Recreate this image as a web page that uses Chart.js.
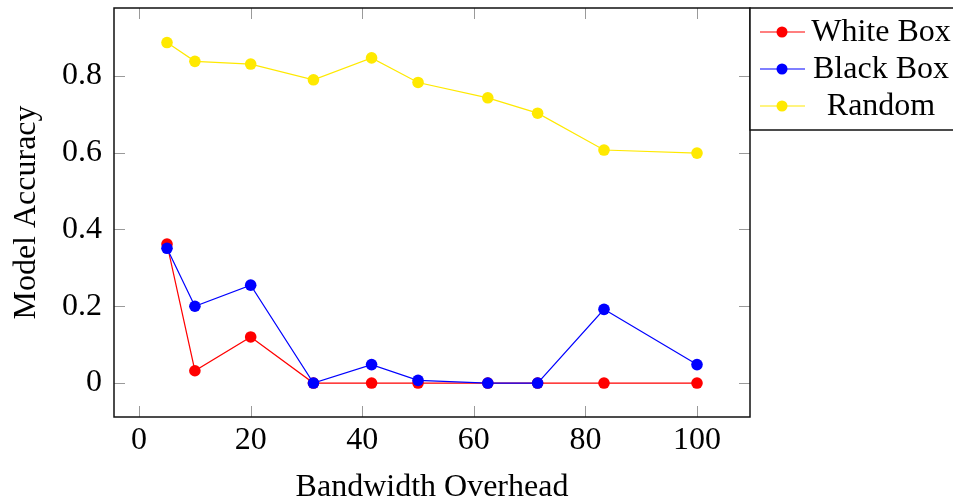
<!DOCTYPE html>
<html>
<head>
<meta charset="utf-8">
<script src="https://cdn.jsdelivr.net/npm/chart.js@4.4.1/dist/chart.umd.min.js"></script>
<style>
  html, body { margin: 0; padding: 0; background: #fff; }
  canvas { display: block; }
</style>
</head>
<body>
<canvas id="accChart" width="953" height="500"></canvas>
<script>
// bandwidth overhead (x) values, shared by all series
const overhead = [5, 10, 20, 31.25, 41.67, 50, 62.5, 71.43, 83.33, 100];
const whiteBox = [0.362, 0.032, 0.120, 0, 0, 0, 0, 0, 0, 0];
const blackBox = [0.351, 0.200, 0.255, 0, 0.048, 0.007, 0, 0, 0.192, 0.048];
const randomAcc = [0.887, 0.838, 0.831, 0.790, 0.847, 0.783, 0.743, 0.703, 0.607, 0.599];

const seriesNames = ['White Box', 'Black Box', 'Random'];
const seriesColors = ['#ff0000', '#0000ff', '#ffe900'];

const xTicks = [0, 20, 40, 60, 80, 100];
const yTicks = [0, 0.2, 0.4, 0.6, 0.8];

const FONT = "'Liberation Serif', 'Times New Roman', serif";
const FSIZE = 32;

function toPoints(ys) {
  return overhead.map((x, i) => ({ x: x, y: ys[i] }));
}

function makeSet(label, ys, color, order) {
  return {
    label: label,
    data: toPoints(ys),
    borderColor: color,
    backgroundColor: color,
    borderWidth: 1.2,
    pointRadius: 5.8,
    pointHoverRadius: 5.8,
    pointBorderWidth: 0,
    order: order,
    tension: 0
  };
}

// pgfplots-like frame, inward ticks on all four sides, and the legend box
const framePlugin = {
  id: 'frame',
  afterDraw(chart) {
    const ctx = chart.ctx;
    const a = chart.chartArea;
    const xs = chart.scales.x;
    const ys = chart.scales.y;
    const tl = 11;

    ctx.save();
    ctx.strokeStyle = '#9a9a9a';
    ctx.lineWidth = 1;
    xTicks.forEach(v => {
      const px = Math.round(xs.getPixelForValue(v)) + 0.5;
      ctx.beginPath();
      ctx.moveTo(px, a.bottom); ctx.lineTo(px, a.bottom - tl);
      ctx.moveTo(px, a.top); ctx.lineTo(px, a.top + tl);
      ctx.stroke();
    });
    yTicks.forEach(v => {
      const py = Math.round(ys.getPixelForValue(v)) + 0.5;
      ctx.beginPath();
      ctx.moveTo(a.left, py); ctx.lineTo(a.left + tl, py);
      ctx.moveTo(a.right, py); ctx.lineTo(a.right - tl, py);
      ctx.stroke();
    });

    ctx.strokeStyle = '#111';
    ctx.lineWidth = 1.5;
    ctx.strokeRect(a.left, a.top, a.right - a.left, a.bottom - a.top);

    // legend, sitting against the right side of the plot
    const lx = a.right, ly = a.top, lw = 220, lh = 122;
    ctx.fillStyle = '#fff';
    ctx.fillRect(lx, ly, lw, lh);
    ctx.strokeRect(lx, ly, lw, lh);
    ctx.font = FSIZE + 'px ' + FONT;
    ctx.textAlign = 'center';
    ctx.textBaseline = 'middle';
    seriesNames.forEach((name, i) => {
      const cy = ly + 24 + i * 37;
      ctx.strokeStyle = seriesColors[i];
      ctx.lineWidth = 1.2;
      ctx.beginPath();
      ctx.moveTo(lx + 10, cy); ctx.lineTo(lx + 55, cy);
      ctx.stroke();
      ctx.fillStyle = seriesColors[i];
      ctx.beginPath();
      ctx.arc(lx + 32, cy, 5.5, 0, Math.PI * 2);
      ctx.fill();
      ctx.fillStyle = '#000';
      ctx.fillText(name, lx + 131, cy + 1);
    });
    ctx.restore();
  }
};

new Chart(document.getElementById('accChart'), {
  type: 'line',
  data: {
    datasets: [
      makeSet(seriesNames[0], whiteBox, seriesColors[0], 1),
      makeSet(seriesNames[1], blackBox, seriesColors[1], 0),
      makeSet(seriesNames[2], randomAcc, seriesColors[2], 2)
    ]
  },
  options: {
    responsive: false,
    animation: false,
    layout: { padding: { top: 8, right: 203, left: 0, bottom: 0 } },
    plugins: {
      legend: { display: false },
      tooltip: { enabled: false }
    },
    scales: {
      x: {
        type: 'linear',
        min: -4.5,
        max: 109.5,
        afterBuildTicks: s => { s.ticks = xTicks.map(v => ({ value: v })); },
        afterFit: s => { s.height = 83; s.paddingLeft = 0; s.paddingRight = 0; },
        grid: { display: false, drawTicks: false },
        border: { display: false },
        ticks: { color: '#000', font: { family: FONT, size: FSIZE }, padding: 4, maxRotation: 0 },
        title: {
          display: true,
          text: 'Bandwidth Overhead',
          color: '#000',
          font: { family: FONT, size: FSIZE },
          padding: { top: 0, bottom: -7 }
        }
      },
      y: {
        type: 'linear',
        min: -0.0885,
        max: 0.977,
        afterBuildTicks: s => { s.ticks = yTicks.map(v => ({ value: v })); },
        afterFit: s => { s.width = 114; s.paddingTop = 0; s.paddingBottom = 0; },
        grid: { display: false, drawTicks: false },
        border: { display: false },
        ticks: { color: '#000', font: { family: FONT, size: FSIZE }, padding: 12 },
        title: {
          display: true,
          text: 'Model Accuracy',
          color: '#000',
          font: { family: FONT, size: FSIZE },
          padding: { top: 7, bottom: 0 }
        }
      }
    }
  },
  plugins: [framePlugin]
});
</script>
</body>
</html>
